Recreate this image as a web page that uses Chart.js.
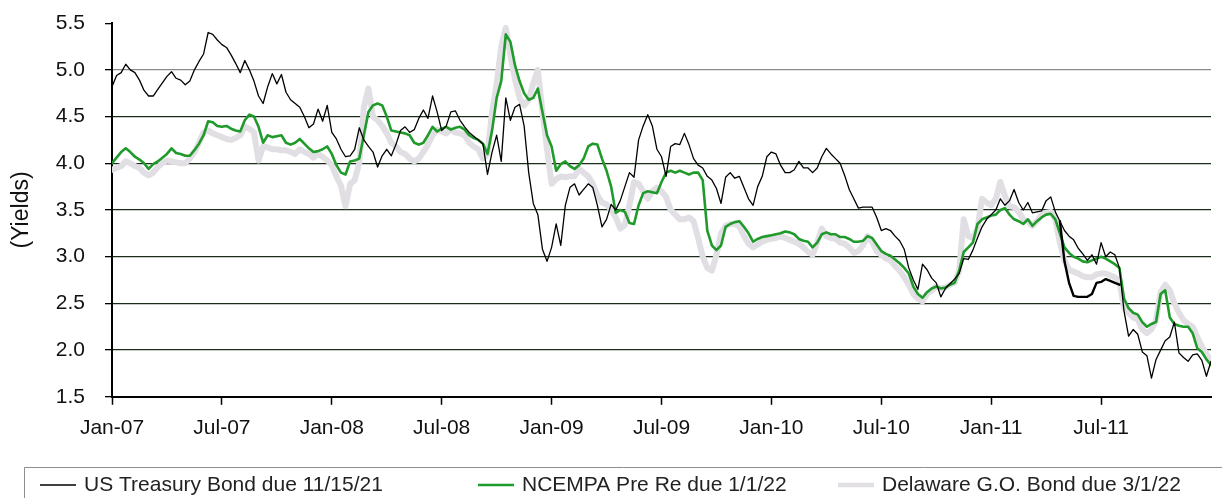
<!DOCTYPE html>
<html>
<head>
<meta charset="utf-8">
<script src="https://cdn.jsdelivr.net/npm/chart.js@4.4.1/dist/chart.umd.min.js"></script>
<style>
  html, body { margin: 0; padding: 0; background: #fff; }
  #wrap { width: 1222px; height: 498px; }
</style>
</head>
<body>
<div id="wrap"><canvas id="chart" width="1222" height="498"></canvas></div>
<script>
// x positions are months since Jan-07, one sample every quarter month
const STEP = 0.25;
const tickLabels = ['Jan-07', 'Jul-07', 'Jan-08', 'Jul-08', 'Jan-09', 'Jul-09', 'Jan-10', 'Jul-10', 'Jan-11', 'Jul-11'];
const seriesNames = ['US Treasury Bond due 11/15/21', 'NCEMPA Pre Re due 1/1/22', 'Delaware G.O. Bond due 3/1/22'];

const treasury = [
  4.82, 4.94, 4.97, 5.06, 5.00, 4.97, 4.89, 4.78, 4.72, 4.72, 4.79, 4.86, 4.93, 4.98, 4.91, 4.89,
  4.84, 4.88, 5.00, 5.09, 5.17, 5.40, 5.38, 5.32, 5.27, 5.24, 5.16, 5.07, 4.97, 5.10, 5.00, 4.88,
  4.72, 4.64, 4.82, 4.96, 4.85, 4.95, 4.76, 4.68, 4.64, 4.60, 4.50, 4.38, 4.42, 4.58, 4.45, 4.62,
  4.33, 4.26, 4.15, 4.07, 4.08, 4.15, 4.38, 4.25, 4.18, 4.12, 3.96, 4.08,
  4.15, 4.08, 4.20, 4.35, 4.39, 4.33, 4.36, 4.48, 4.57, 4.48, 4.72, 4.55, 4.35, 4.40, 4.55, 4.56,
  4.46, 4.39, 4.33, 4.29, 4.25, 4.21, 3.88, 4.12, 4.30, 4.02, 4.70, 4.46, 4.60, 4.63, 4.40, 3.90,
  3.57, 3.45, 3.08, 2.95, 3.10, 3.35, 3.12, 3.55, 3.74, 3.78, 3.66, 3.72, 3.78, 3.74, 3.55, 3.32,
  3.40, 3.56, 3.50, 3.60, 3.75, 3.90, 3.85, 4.25, 4.40, 4.52, 4.40, 4.15,
  4.07, 3.86, 4.18, 4.21, 4.20, 4.32, 4.20, 4.05, 3.98, 3.95, 3.86, 3.82, 3.73, 3.57, 3.85, 3.90,
  3.84, 3.86, 3.74, 3.62, 3.55, 3.75, 3.86, 4.07, 4.12, 4.10, 3.98, 3.90, 3.90, 3.93, 4.02, 3.95,
  3.95, 3.90, 3.95, 4.07, 4.16, 4.10, 4.05, 4.00, 3.87, 3.72, 3.62, 3.52, 3.53, 3.53, 3.53, 3.42,
  3.28, 3.30, 3.28, 3.22, 3.17, 3.08, 2.88, 2.75, 2.65, 2.92, 2.86, 2.77,
  2.72, 2.57, 2.66, 2.71, 2.76, 2.82, 2.98, 2.97, 3.07, 3.20, 3.32, 3.40, 3.45, 3.50, 3.62, 3.55,
  3.60, 3.72, 3.58, 3.50, 3.58, 3.47, 3.48, 3.49, 3.60, 3.64, 3.48, 3.38, 3.28, 3.22, 3.18, 3.09,
  3.03, 2.96, 3.02, 2.92, 3.15, 3.00, 3.05, 3.02, 2.88, 2.42, 2.15, 2.22, 2.17, 1.98, 1.94, 1.70,
  1.90, 2.00, 2.10, 2.14, 2.30, 1.97, 1.92, 1.88, 1.95, 1.96, 1.89, 1.72, 1.88
];

// second black trace seen Apr-Jul 2011, starts at sample 207
const treasuryLowStart = 207;
const treasuryLow = [3.38, 2.95, 2.72, 2.58, 2.57, 2.57, 2.57, 2.60, 2.72, 2.73, 2.76, 2.74, 2.72, 2.70];

const ncempa = [
  4.00, 4.06, 4.12, 4.16, 4.12, 4.07, 4.04, 4.00, 3.94, 3.99, 4.02, 4.06, 4.10, 4.16, 4.11, 4.10,
  4.08, 4.08, 4.14, 4.21, 4.30, 4.45, 4.44, 4.40, 4.39, 4.40, 4.37, 4.35, 4.34, 4.46, 4.52, 4.50,
  4.39, 4.22, 4.30, 4.28, 4.29, 4.30, 4.22, 4.20, 4.22, 4.26, 4.21, 4.16, 4.12, 4.13, 4.15, 4.18,
  4.10, 3.98, 3.90, 3.88, 4.02, 4.03, 4.05, 4.30, 4.55, 4.62, 4.64, 4.62,
  4.50, 4.35, 4.34, 4.33, 4.32, 4.30, 4.22, 4.20, 4.22, 4.30, 4.39, 4.34, 4.37, 4.39, 4.36, 4.38,
  4.39, 4.36, 4.30, 4.27, 4.25, 4.21, 4.10, 4.35, 4.70, 4.88, 5.38, 5.30, 5.05, 4.88, 4.75, 4.68,
  4.70, 4.80, 4.55, 4.30, 4.18, 3.92, 3.99, 4.02, 3.97, 3.94, 3.98, 4.05, 4.18, 4.21, 4.20, 4.05,
  3.92, 3.75, 3.47, 3.50, 3.48, 3.36, 3.35, 3.55, 3.68, 3.70, 3.69, 3.68,
  3.80, 3.90, 3.92, 3.90, 3.92, 3.90, 3.88, 3.90, 3.90, 3.82, 3.28, 3.12, 3.07, 3.12, 3.32, 3.35,
  3.37, 3.38, 3.32, 3.25, 3.16, 3.19, 3.21, 3.22, 3.23, 3.24, 3.25, 3.27, 3.26, 3.24, 3.19, 3.17,
  3.16, 3.10, 3.15, 3.24, 3.26, 3.24, 3.24, 3.21, 3.21, 3.19, 3.16, 3.16, 3.17, 3.22, 3.20, 3.13,
  3.06, 3.03, 3.01, 2.97, 2.93, 2.88, 2.82, 2.68, 2.60, 2.56, 2.62, 2.66,
  2.68, 2.66, 2.67, 2.70, 2.72, 2.85, 3.05, 3.10, 3.15, 3.35, 3.40, 3.42, 3.44, 3.45, 3.50, 3.52,
  3.45, 3.40, 3.38, 3.35, 3.40, 3.33, 3.38, 3.42, 3.45, 3.46, 3.40, 3.25, 3.10, 3.04, 3.00, 2.98,
  2.95, 2.94, 2.96, 2.98, 3.00, 2.98, 2.95, 2.92, 2.88, 2.55, 2.45, 2.40, 2.38, 2.30, 2.25, 2.28,
  2.30, 2.60, 2.64, 2.35, 2.28, 2.26, 2.25, 2.25, 2.18, 2.02, 1.98, 1.90, 1.84
];

const delaware = [
  3.93, 3.95, 3.97, 4.02, 4.00, 3.97, 3.95, 3.90, 3.87, 3.90, 3.96, 4.00, 4.03, 4.02, 4.01, 4.00,
  4.00, 4.05, 4.12, 4.22, 4.33, 4.35, 4.32, 4.30, 4.28, 4.26, 4.25, 4.27, 4.30, 4.39, 4.37, 4.33,
  4.03, 4.18, 4.17, 4.15, 4.15, 4.14, 4.14, 4.12, 4.10, 4.15, 4.12, 4.10, 4.06, 4.10, 4.07, 4.03,
  3.98, 3.86, 3.76, 3.54, 3.78, 3.82, 4.00, 4.60, 4.80, 4.50, 4.46, 4.40,
  4.32, 4.22, 4.18, 4.12, 4.10, 4.05, 4.02, 4.05, 4.12, 4.20, 4.30, 4.36, 4.34, 4.32, 4.36, 4.33,
  4.32, 4.30, 4.22, 4.18, 4.15, 4.05, 4.10, 4.55, 4.85, 5.25, 5.45, 5.15, 4.90, 4.70, 4.62, 4.68,
  4.86, 5.00, 4.55, 4.15, 3.78, 3.83, 3.86, 3.85, 3.86, 3.86, 3.94, 3.90, 3.86, 3.78, 3.66, 3.58,
  3.56, 3.50, 3.42, 3.30, 3.34, 3.55, 3.80, 3.78, 3.70, 3.62, 3.70, 3.74,
  3.70, 3.64, 3.50, 3.45, 3.40, 3.40, 3.42, 3.38, 3.20, 3.00, 2.88, 2.85, 3.02, 3.25, 3.33, 3.35,
  3.35, 3.32, 3.22, 3.14, 3.10, 3.13, 3.16, 3.18, 3.19, 3.20, 3.22, 3.20, 3.18, 3.16, 3.14, 3.10,
  3.05, 3.02, 3.15, 3.30, 3.22, 3.20, 3.19, 3.15, 3.14, 3.10, 3.04, 3.06, 3.12, 3.22, 3.16, 3.06,
  3.02, 2.98, 2.96, 2.90, 2.85, 2.78, 2.70, 2.60, 2.55, 2.52, 2.60, 2.64,
  2.68, 2.66, 2.67, 2.70, 2.72, 2.85, 3.40, 3.22, 3.20, 3.30, 3.62, 3.58, 3.55, 3.62, 3.80, 3.65,
  3.54, 3.53, 3.48, 3.40, 3.38, 3.33, 3.38, 3.45, 3.47, 3.48, 3.40, 3.15, 2.96, 2.86, 2.84, 2.82,
  2.79, 2.78, 2.78, 2.81, 2.82, 2.82, 2.80, 2.78, 2.74, 2.45, 2.40, 2.35, 2.33, 2.22, 2.18, 2.22,
  2.32, 2.62, 2.70, 2.64, 2.50, 2.40, 2.32, 2.28, 2.25, 2.14, 2.04, 1.96, 1.89
];

const toPoints = (vals, start = 0) => vals.map((v, i) => ({ x: (start + i) * STEP, y: v }));

const FONT = "'Liberation Sans', Arial, sans-serif";

// boxed legend along the bottom, running off the right/bottom edge as in the original
const legendBox = {
    id: 'legendBox',
    slots: [40, 478, 838],   // left end of each sample line
    afterDraw(chart) {
        const c = chart.ctx;
        const y = 485;
        c.save();
        c.strokeStyle = '#8e8e8e';
        c.lineWidth = 1;
        c.beginPath();
        c.moveTo(24.5, chart.height + 5);
        c.lineTo(24.5, 467.5);
        c.lineTo(chart.width + 5, 467.5);
        c.stroke();

        c.font = '21px ' + FONT;
        c.textBaseline = 'middle';
        c.textAlign = 'left';
        chart.data.datasets.filter(d => d.label !== 'lowTrace').forEach((d, i) => {
            const x = this.slots[i];
            c.strokeStyle = d.borderColor;
            c.lineWidth = Math.min(d.borderWidth, 4.5);
            c.beginPath();
            c.moveTo(x, y);
            c.lineTo(x + 36, y);
            c.stroke();
            c.fillStyle = '#222';
            c.fillText(d.label, x + 44, y);
        });
        c.restore();
    }
};

new Chart(document.getElementById('chart'), {
    type: 'line',
    data: {
        datasets: [
            { label: seriesNames[0], data: toPoints(treasury), borderColor: '#000', borderWidth: 1.3, order: 0 },
            { label: 'lowTrace', data: toPoints(treasuryLow, treasuryLowStart), borderColor: '#000', borderWidth: 2.4, order: 1 },
            { label: seriesNames[1], data: toPoints(ncempa), borderColor: '#1f9a2b', borderWidth: 2.6, order: 2 },
            { label: seriesNames[2], data: toPoints(delaware), borderColor: '#e2dfe4', borderWidth: 6, order: 3 }
        ]
    },
    options: {
        responsive: false,
        animation: false,
        elements: { point: { radius: 0 }, line: { tension: 0, borderCapStyle: 'round', borderJoinStyle: 'round' } },
        layout: { padding: { top: 0, right: 6, left: 0, bottom: 46 } },
        scales: {
            x: {
                type: 'linear',
                min: 0,
                max: 60,
                ticks: {
                    stepSize: 6,
                    autoSkip: false,
                    maxRotation: 0,
                    padding: 11,
                    color: '#111',
                    font: { family: FONT, size: 21 },
                    callback: v => tickLabels[v / 6] || ''
                },
                grid: {
                    drawOnChartArea: false,
                    tickLength: 8,
                    tickColor: ctx => ctx.tick && ctx.tick.value === 60 ? 'rgba(0,0,0,0)' : '#000',
                    tickWidth: 1.5
                },
                border: { color: '#000', width: 2 }
            },
            y: {
                min: 1.5,
                max: 5.5,
                afterFit: s => { s.width = 112; },
                ticks: {
                    stepSize: 0.5,
                    padding: 20,
                    color: '#111',
                    // small lineHeight keeps the top label from pushing the plot down
                    font: { family: FONT, size: 21, lineHeight: 0.3 },
                    callback: v => v.toFixed(1)
                },
                grid: {
                    color: ctx => ctx.tick.value === 5.5 ? 'rgba(0,0,0,0)' : (ctx.tick.value === 5 ? '#8a8a8a' : '#1d2b1d'),
                    lineWidth: 1.3,
                    tickLength: 7,
                    tickColor: '#000'
                },
                border: { color: '#000', width: 2 },
                title: {
                    display: true,
                    text: '(Yields)',
                    color: '#111',
                    font: { family: FONT, size: 23 },
                    padding: { top: 8, bottom: 0 }
                }
            }
        },
        plugins: {
            legend: { display: false },
            tooltip: { enabled: false }
        }
    },
    plugins: [legendBox]
});
</script>
</body>
</html>
